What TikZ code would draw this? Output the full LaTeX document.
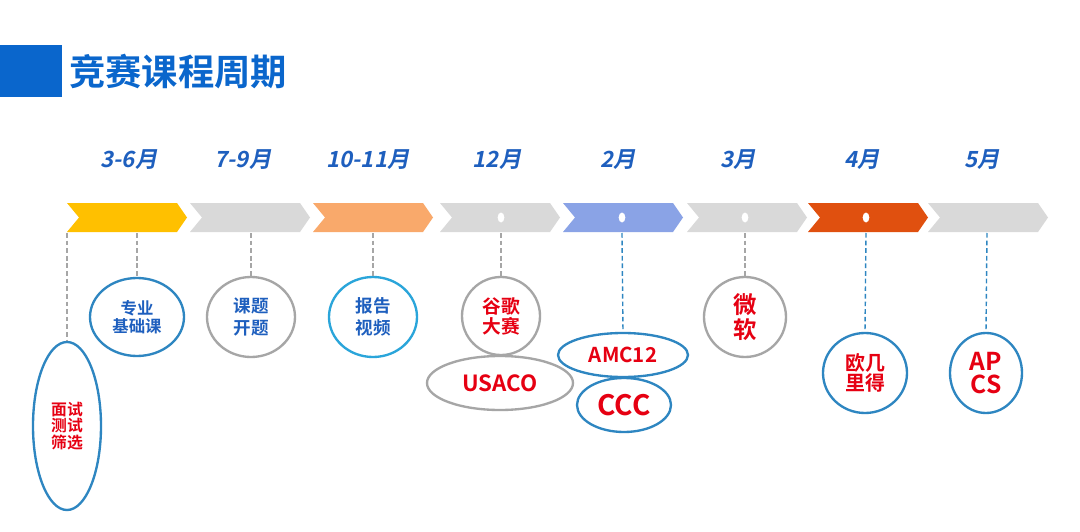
\documentclass[tikz,border=0pt]{standalone}
\usepackage{fontspec}
\setmainfont{Noto Sans CJK SC}
\newfontfamily\cjk{Noto Sans CJK SC}[BoldFont={Noto Sans CJK SC Bold}]
\newfontfamily\cjkslant{Noto Sans CJK SC Bold}[FakeSlant=0.2]
\usetikzlibrary{shapes.geometric}
\definecolor{titleblue}{HTML}{0A66CC}
\definecolor{txtblue}{HTML}{1E5FBE}
\definecolor{txtred}{HTML}{E60012}
\definecolor{ringblue}{HTML}{2E86C1}
\definecolor{ringcyan}{HTML}{2AA5DA}
\definecolor{ringgray}{HTML}{A6A6A6}
\definecolor{cyellow}{HTML}{FFC000}
\definecolor{cgray}{HTML}{D9D9D9}
\definecolor{corange}{HTML}{F9A96B}
\definecolor{cblue}{HTML}{8AA3E6}
\definecolor{cdark}{HTML}{E0500F}
\tikzset{
  ring/.style={ellipse, draw=#1, line width=2pt, fill=white, inner sep=0pt, align=center, font=\cjk\bfseries},
  month/.style={text=txtblue, font=\cjkslant\fontsize{19}{21}\selectfont},
  dashg/.style={draw=ringgray, dashed, line width=1.2pt, dash pattern=on 4pt off 2.5pt},
  dashb/.style={draw=ringblue, dashed, line width=1.2pt, dash pattern=on 4pt off 2.5pt},
  dot/.style={ellipse, fill=white, inner sep=0pt, minimum width=0.2cm, minimum height=0.3cm}
}
\begin{document}
\begin{tikzpicture}[x=0.03cm, y=-0.03cm]
\useasboundingbox (0,0) rectangle (1080,532);
\fill[white] (0,0) rectangle (1080,532);
% title
\fill[titleblue] (0,45) rectangle (62,97);
\node[anchor=west, text=titleblue, inner sep=0pt, font=\cjk\bfseries\fontsize{31}{33}\selectfont] (title) at (69,72) {竞赛课程周期};
% chevrons
\foreach \x/\c in {67/cyellow,190/cgray,313/corange,440/cgray,563/cblue,687/cgray,808/cdark,928/cgray}{
  \fill[\c] (\x,203) -- (\x+110,203) -- (\x+120,217.5) -- (\x+110,232) -- (\x,232) -- (\x+12,217.5) -- cycle;
}
% month labels
\node[month] (m1) at (129,160) {3-6月};
\node[month] (m2) at (243,160) {7-9月};
\node[month] (m3) at (368,160) {10-11月};
\node[month] (m4) at (497,160) {12月};
\node[month] (m5) at (618,160) {2月};
\node[month] (m6) at (738,160) {3月};
\node[month] (m7) at (862,160) {4月};
\node[month] (m8) at (982,160) {5月};
% dots
\node[dot] (d4) at (501,217.5) {};
\node[dot] (d5) at (622,217.5) {};
\node[dot] (d6) at (745,217.5) {};
\node[dot] (d7) at (866,217.5) {};
% anchor coordinates
\coordinate (c1) at (67,233);
\coordinate (c2) at (137,233);
\coordinate (c3) at (251,233);
\coordinate (c4) at (373,233);
\coordinate (c5) at (501,233);
\coordinate (c6) at (622,233);
\coordinate (c7) at (745,233);
\coordinate (c8) at (866,233);
\coordinate (c9) at (987,233);
% ellipses
\node[ring=ringblue, minimum width=2.04cm, minimum height=5.04cm, text=txtred, font=\cjk\bfseries\fontsize{13.5}{14}\selectfont] (e1) at (67,426) {面试\\测试\\筛选};
\node[ring=ringblue, minimum width=2.82cm, minimum height=2.34cm, text=txtblue, font=\cjk\bfseries\fontsize{14}{15}\selectfont] (e2) at (137,317) {专业\\基础课};
\node[ring=ringgray, minimum width=2.64cm, minimum height=2.4cm, text=txtblue, font=\cjk\bfseries\fontsize{15}{19}\selectfont] (e3) at (251,317) {课题\\开题};
\node[ring=ringcyan, minimum width=2.64cm, minimum height=2.4cm, text=txtblue, font=\cjk\bfseries\fontsize{15}{19}\selectfont] (e4) at (373,317) {报告\\视频};
\node[ring=ringgray, minimum width=2.34cm, minimum height=2.34cm, text=txtred, font=\cjk\bfseries\fontsize{16}{17}\selectfont] (e5) at (501,316) {谷歌\\大赛};
\node[ring=ringgray, minimum width=4.38cm, minimum height=1.62cm, text=txtred, font=\cjk\bfseries\fontsize{19}{21}\selectfont] (e6) at (500,383) {USACO};
\node[ring=ringblue, minimum width=3.9cm, minimum height=1.32cm, text=txtred, font=\cjk\bfseries\fontsize{17.5}{19}\selectfont] (e7) at (623,355) {AMC12};
\node[ring=ringblue, minimum width=2.82cm, minimum height=1.62cm, text=txtred, font=\cjk\bfseries\fontsize{24}{26}\selectfont] (e8) at (624,405) {CCC};
\node[ring=ringgray, minimum width=2.46cm, minimum height=2.4cm, text=txtred, font=\cjk\bfseries\fontsize{20}{21}\selectfont] (e9) at (745,317) {微\\软};
\node[ring=ringblue, minimum width=2.52cm, minimum height=2.4cm, text=txtred, font=\cjk\bfseries\fontsize{17}{17.5}\selectfont] (e10) at (865,373) {欧几\\里得};
\node[ring=ringblue, minimum width=2.16cm, minimum height=2.4cm, text=txtred, font=\cjk\bfseries\fontsize{21}{20}\selectfont] (e11) at (986,373) {AP\\CS};
% connectors
\draw[dashg] (c1) -- (e1.north);
\draw[dashg] (c2) -- (e2.north);
\draw[dashg] (c3) -- (e3.north);
\draw[dashg] (c4) -- (e4.north);
\draw[dashg] (c5) -- (e5.north);
\draw[dashb] (c6) -- (e7.north);
\draw[dashg] (c7) -- (e9.north);
\draw[dashb] (c8) -- (e10.north);
\draw[dashb] (c9) -- (e11.north);
\end{tikzpicture}
\end{document}
